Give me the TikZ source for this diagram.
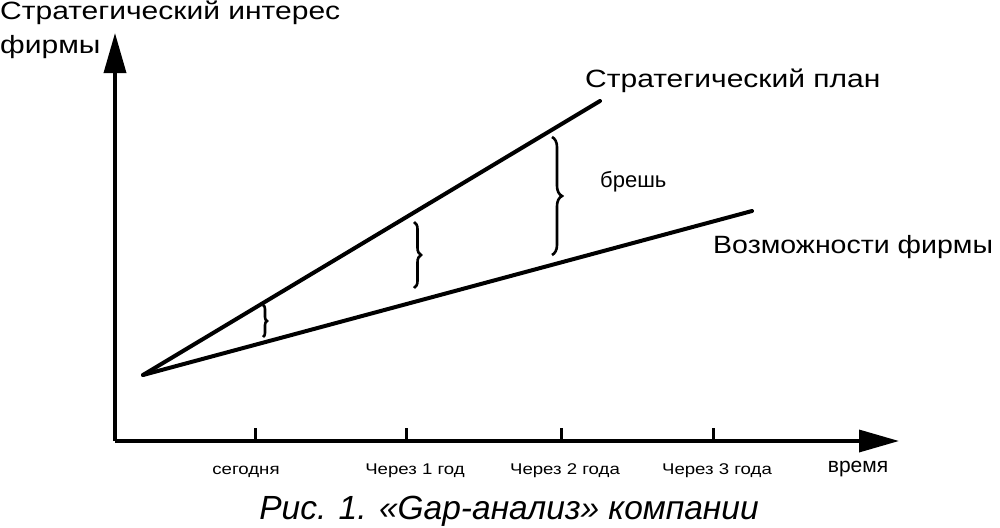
\documentclass[tikz,border=0pt]{standalone}
\usepackage{fontspec}
\setmainfont{Liberation Sans}
\newfontfamily\widefont[FakeStretch=1.2]{Liberation Sans}
\newfontfamily\midfont[FakeStretch=1.14]{Liberation Sans}
\usetikzlibrary{arrows.meta,decorations.pathreplacing}
\begin{document}
\begin{tikzpicture}[x=1pt,y=-1pt,
  axis/.style={line width=3.5pt,-{Triangle[length=40pt,width=22pt]}},
  trend/.style={line width=4pt,line cap=round},
  gapbrace/.style={line width=2.6pt,decorate,decoration={brace,amplitude=#1}},
  biglabel/.style={inner sep=0pt,anchor=base west,font=\widefont\fontsize{25}{30}\selectfont},
  ticklabel/.style={inner sep=0pt,anchor=base,font=\widefont\fontsize{15.5}{18}\selectfont},
  plainlabel/.style={inner sep=0pt,anchor=base,font=\fontsize{21}{25}\selectfont},
  tickmark/.style={line width=3pt}]
\useasboundingbox (0,0) rectangle (1000,527);
% axes
\coordinate (orig) at (115,441);
\coordinate (ytip) at (115,33);
\coordinate (xtip) at (899,441);
\draw[axis] (orig) -- (ytip);
\draw[axis] (orig) -- (xtip);
% ticks
\coordinate (t1) at (255,441);
\coordinate (t2) at (406,441);
\coordinate (t3) at (561,441);
\coordinate (t4) at (713,441);
\foreach \t in {t1,t2,t3,t4}{\draw[tickmark] (\t) -- ++(0,-13);}
% tick labels
\node[ticklabel] (l1) at (246,474) {сегодня};
\node[ticklabel] (l2) at (415,474) {Через 1 год};
\node[ticklabel] (l3) at (565,474) {Через 2 года};
\node[ticklabel] (l4) at (717,474) {Через 3 года};
\node[plainlabel] (time) at (858,472) {время};
% trend lines
\coordinate (O) at (143,375);
\coordinate (P) at (600,101);
\coordinate (C) at (752,211);
\draw[trend] (O) -- (P);
\draw[trend] (O) -- (C);
% braces
\coordinate (b1t) at (263,305); \coordinate (b1b) at (263,337);
\coordinate (b2t) at (414,222); \coordinate (b2b) at (414,288);
\coordinate (b3t) at (552,137); \coordinate (b3b) at (552,255);
\draw[gapbrace=4pt] (b1t) -- (b1b);
\draw[gapbrace=7pt] (b2t) -- (b2b);
\draw[gapbrace=10pt] (b3t) -- (b3b);
% labels
\node[biglabel] (yl1) at (0,20) {Стратегический интерес};
\node[biglabel] (yl2) at (0,53) {фирмы};
\node[biglabel] (plan) at (585,87) {Стратегический план};
\node[biglabel,font=\midfont\fontsize{25}{30}\selectfont] (cap) at (713,253) {Возможности фирмы};
\node[inner sep=0pt,anchor=base west,font=\fontsize{22}{26}\selectfont] (gap) at (600,187) {брешь};
\node[inner sep=0pt,anchor=base,font=\itshape\fontsize{33.5}{40}\selectfont] (caption) at (509,519) {Рис. 1. «Gap-анализ» компании};
\end{tikzpicture}
\end{document}
